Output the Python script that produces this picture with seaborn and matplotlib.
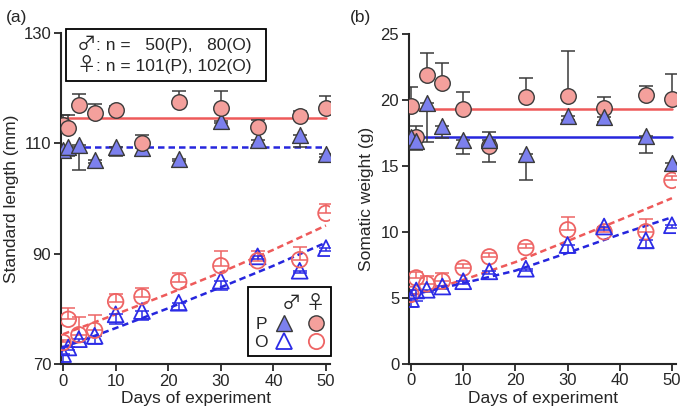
import numpy as np
import seaborn as sns
import matplotlib.pyplot as plt
from matplotlib.lines import Line2D
from matplotlib.font_manager import FontProperties
from matplotlib.offsetbox import TextArea, HPacker, VPacker, AnchoredOffsetbox, DrawingArea

# sampling days
days = [0, 1, 3, 6, 10, 15, 22, 30, 37, 45, 50]
fit_days = [0, 10, 20, 30, 40, 50]

# (a) standard length (mm); female errors go up, male errors go down
len_p_f = [113.3, 112.7, 116.9, 115.5, 116.0, 110.1, 117.5, 116.4, 112.9, 115.0, 116.3]
len_p_f_err = [1.8, 2.4, 2.0, 1.6, 0.8, 1.4, 2.0, 3.1, 1.4, 0.8, 2.3]
len_p_m = [108.8, 109.3, 109.7, 106.9, 109.3, 109.1, 107.2, 114.1, 110.5, 111.5, 108.0]
len_p_m_err = [0.5, 1.6, 4.5, 0.5, 1.7, 1.5, 0.5, 0.5, 0.8, 2.2, 0.5]
len_o_f = [73.9, 78.1, 75.3, 76.1, 81.3, 82.2, 84.9, 87.8, 88.7, 88.9, 97.3]
len_o_f_err = [0.5, 2.0, 3.2, 2.8, 1.3, 1.5, 1.5, 2.6, 1.7, 2.3, 1.7]
len_o_m = [71.8, 73.0, 74.5, 75.1, 79.0, 79.6, 81.1, 85.1, 89.5, 86.9, 91.0]
len_o_m_err = [1.8, 0.5, 0.5, 1.5, 1.7, 1.6, 1.3, 1.7, 0.5, 0.5, 0.5]
len_fit_p_f = 114.5
len_fit_p_m = 109.3
len_fit_o_f = [75.4, 79.0, 82.7, 86.6, 90.7, 95.1]
len_fit_o_m = [73.0, 76.5, 80.1, 83.9, 87.8, 92.0]

# (b) somatic weight (g)
wt_p_f = [19.55, 17.2, 21.9, 21.3, 19.3, 16.5, 20.2, 20.3, 19.4, 20.4, 20.05]
wt_p_f_err = [1.45, 0.8, 1.7, 1.5, 1.3, 1.05, 1.5, 3.4, 0.85, 0.7, 1.95]
wt_p_m = [17.2, 16.9, 19.75, 18.0, 17.0, 17.0, 15.9, 18.8, 18.7, 17.3, 15.2]
wt_p_m_err = [0.5, 0.7, 2.9, 0.9, 1.1, 1.7, 2.0, 0.3, 0.4, 1.3, 0.4]
wt_o_f = [5.25, 6.5, 6.05, 6.25, 7.25, 8.1, 8.8, 10.15, 10.0, 10.0, 13.9]
wt_o_f_err = [0.3, 0.45, 0.6, 0.6, 0.3, 0.3, 0.3, 0.95, 0.3, 1.0, 0.3]
wt_o_m = [4.9, 5.55, 5.6, 5.85, 6.25, 7.0, 7.2, 9.0, 10.4, 9.35, 10.5]
wt_o_m_err = [0.6, 0.8, 0.2, 0.2, 0.2, 0.2, 0.2, 0.6, 0.3, 0.55, 0.2]
wt_fit_p_f = 19.3
wt_fit_p_m = 17.2
wt_fit_o_f = [5.15, 6.35, 7.7, 9.3, 10.9, 12.55]
wt_fit_o_m = [5.2, 6.1, 7.05, 8.4, 9.8, 11.1]

# sample sizes
n_male = ['50', '80']
n_female = ['101', '102']

F_FILL = '#F4A09C'
M_FILL = '#7C80EE'
EDGE = '#3a3a3a'
F_OPEN = '#EE6464'
M_OPEN = '#2B2BE6'
F_LINE = '#EE5A5A'
M_LINE = '#2626DD'
DASH = (0, (2.6, 1.6))
FS = 12.5
SYM_FONT = ['Noto Sans CJK JP', 'DejaVu Sans']

sns.set_style('ticks')
plt.rcParams['font.family'] = ['Liberation Sans', 'Noto Sans CJK JP', 'DejaVu Sans']
plt.rcParams['font.size'] = FS


def errbars(ax, y, err, up, color):
    z = np.zeros(len(err))
    yerr = [z, err] if up else [err, z]
    ax.errorbar(days, y, yerr=yerr, fmt='none', ecolor=color, elinewidth=1.1,
                capsize=5, capthick=1.1, zorder=2)


def panel(ax, p_f, p_f_err, p_m, p_m_err, o_f, o_f_err, o_m, o_m_err,
          fit_p_f, fit_p_m, fit_o_f, fit_o_m, male_p_dashed, circles_top):
    # fits
    ends = [days[0], days[-1]]
    sns.lineplot(x=ends, y=[fit_p_f] * 2, color=F_LINE, lw=1.8, ax=ax, zorder=1.5)
    sns.lineplot(x=ends, y=[fit_p_m] * 2, color=M_LINE, lw=1.8, ax=ax, zorder=1.5,
                 linestyle=DASH if male_p_dashed else '-')
    sns.lineplot(x=fit_days, y=fit_o_f, color=F_LINE, lw=1.8, ax=ax, zorder=1.5, linestyle=DASH)
    sns.lineplot(x=fit_days, y=fit_o_m, color=M_LINE, lw=1.8, ax=ax, zorder=1.5, linestyle=DASH)

    # error bars
    errbars(ax, p_f, p_f_err, True, EDGE)
    errbars(ax, p_m, p_m_err, False, EDGE)
    errbars(ax, o_f, o_f_err, True, F_OPEN)
    errbars(ax, o_m, o_m_err, False, M_OPEN)

    zc, zt = (3.2, 3.0) if circles_top else (3.0, 3.2)
    sns.scatterplot(x=days, y=p_m, marker='^', s=130, facecolor=M_FILL, edgecolor=EDGE,
                    linewidth=1.0, ax=ax, zorder=zt)
    sns.scatterplot(x=days, y=o_m, marker='^', s=130, facecolor='none', edgecolor=M_OPEN,
                    linewidth=1.3, ax=ax, zorder=zt)
    sns.scatterplot(x=days, y=p_f, marker='o', s=125, facecolor=F_FILL, edgecolor=EDGE,
                    linewidth=1.0, ax=ax, zorder=zc)
    sns.scatterplot(x=days, y=o_f, marker='o', s=125, facecolor='none', edgecolor=F_OPEN,
                    linewidth=1.3, ax=ax, zorder=zc)

    ax.set_xlim(-0.4, 50.8)
    ax.set_xticks([0, 10, 20, 30, 40, 50])
    ax.set_xlabel('Days of experiment', fontsize=FS, labelpad=2)
    ax.tick_params(direction='out', length=5, width=1.3, labelsize=12, pad=2)
    for s in ['left', 'bottom']:
        ax.spines[s].set_linewidth(1.5)
    sns.despine(ax=ax)


fig = plt.figure(figsize=(6.85, 4.16), dpi=100)
ax1 = fig.add_axes([0.089, 0.125, 0.393, 0.796])
ax2 = fig.add_axes([0.597, 0.126, 0.390, 0.792])

panel(ax1, len_p_f, len_p_f_err, len_p_m, len_p_m_err, len_o_f, len_o_f_err,
      len_o_m, len_o_m_err, len_fit_p_f, len_fit_p_m, len_fit_o_f, len_fit_o_m,
      male_p_dashed=True, circles_top=True)
ax1.set_ylim(70, 130)
ax1.set_yticks([70, 90, 110, 130])
ax1.set_ylabel('Standard length (mm)', fontsize=FS, labelpad=3)

panel(ax2, wt_p_f, wt_p_f_err, wt_p_m, wt_p_m_err, wt_o_f, wt_o_f_err,
      wt_o_m, wt_o_m_err, wt_fit_p_f, wt_fit_p_m, wt_fit_o_f, wt_fit_o_m,
      male_p_dashed=False, circles_top=False)
ax2.set_ylim(0, 25)
ax2.set_yticks([0, 5, 10, 15, 20, 25])
ax2.set_ylabel('Somatic weight (g)', fontsize=FS, labelpad=5)


# sample size box (sex symbols drawn a bit larger, as in the original)
def n_row(sym, txt):
    return HPacker(children=[TextArea(sym, textprops=dict(fontsize=14, family=SYM_FONT)),
                             TextArea(txt, textprops=dict(fontsize=FS))],
                   align='baseline', pad=0, sep=0)


rows = VPacker(children=[n_row('\u2642', ': n =   %s(P),   %s(O)' % tuple(n_male)),
                         n_row('\u2640', ': n = %s(P), %s(O)' % tuple(n_female))],
               align='left', pad=0, sep=0)
content = HPacker(children=[DrawingArea(3.5, 0), rows, DrawingArea(7, 0)],
                  align='center', pad=0, sep=0)
box = AnchoredOffsetbox(loc='upper left', child=content, pad=0.3, borderpad=0,
                        frameon=True, bbox_to_anchor=(0.02, 1.012),
                        bbox_transform=ax1.transAxes, prop=dict(size=FS))
box.patch.set_boxstyle('square,pad=0')
box.patch.set_linewidth(1.3)
box.patch.set_edgecolor('black')
box.set_zorder(5)
ax1.add_artist(box)

# symbol key
handles = [
    Line2D([], [], ls='none', marker='^', ms=11, mfc=M_FILL, mec=EDGE, mew=1.0),
    Line2D([], [], ls='none', marker='^', ms=11, mfc='none', mec=M_OPEN, mew=1.3),
    Line2D([], [], ls='none', marker='o', ms=11, mfc=F_FILL, mec=EDGE, mew=1.0),
    Line2D([], [], ls='none', marker='o', ms=11, mfc='none', mec=F_OPEN, mew=1.3),
]
leg = ax1.legend(handles, ['P', 'O', '', ''], ncol=2, markerfirst=False,
                 title='\u2642 \u2640', alignment='right', loc='lower right',
                 title_fontproperties=FontProperties(family=SYM_FONT, size=14),
                 bbox_to_anchor=(1.003, 0.024), borderaxespad=0, frameon=True,
                 fancybox=False, edgecolor='black', framealpha=1, handlelength=1.0,
                 handletextpad=0.45, columnspacing=0.4, fontsize=FS, borderpad=0.35,
                 labelspacing=0.12, handleheight=0.8)
leg.get_frame().set_linewidth(1.3)

fig.text(0.008, 0.975, '(a)', fontsize=FS, va='top')
fig.text(0.511, 0.975, '(b)', fontsize=FS, va='top')

fig.savefig('out.png', dpi=100)
